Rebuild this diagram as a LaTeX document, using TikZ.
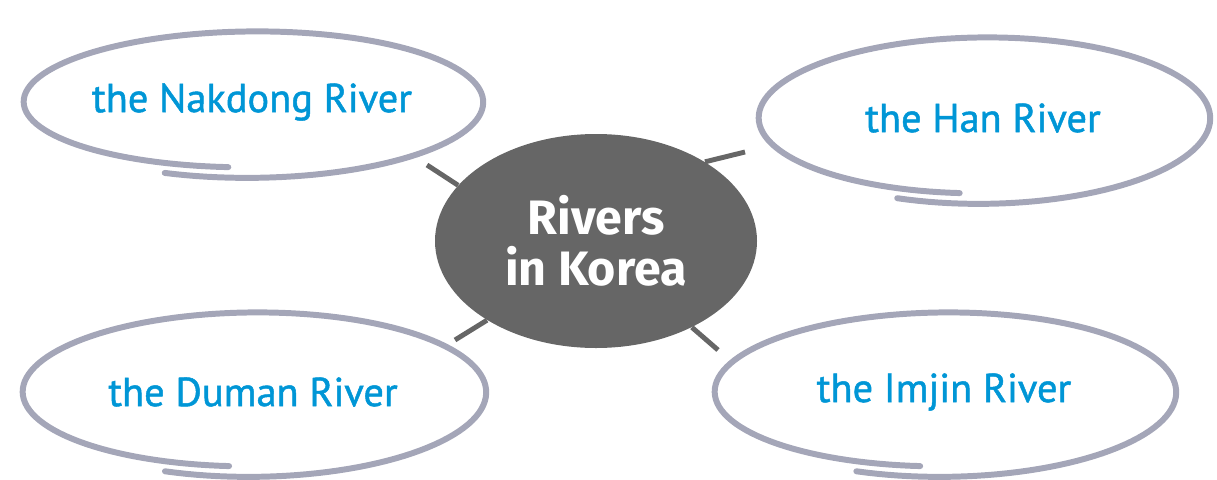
\documentclass[tikz,border=0pt]{standalone}
\usepackage{fontspec}
\usepackage{tikz}
\usetikzlibrary{positioning}
\usetikzlibrary{shapes.geometric}

\setmainfont{PT Sans}[FakeBold=1.2]
\newfontfamily\riverfont{PT Sans}[FakeBold=1.2]
\newfontfamily\hubfont{Fira Sans}

\definecolor{riverblue}{RGB}{0,150,214}
\definecolor{ringgray}{RGB}{164,166,184}
\definecolor{hubgray}{RGB}{102,102,102}

% hand drawn ring round a label: node, half width, half height
\newcommand\riverring[3]{%
  \draw[ring, shift={(#1)}] plot[domain=-112:264, samples=140]
    ({(#2-0.06+0.12*(264-\x)/376)*cos(\x)}, {(#3-0.11+0.22*(264-\x)/376)*sin(\x)});}

\begin{document}
\begin{tikzpicture}[node distance=6.9cm]
		\tikzstyle{hubelem} = [ellipse, fill=hubgray, minimum width=6.44cm, minimum height=4.28cm, inner sep=0pt, align=center, text=white, font=\hubfont\bfseries\fontsize{27.5}{29}\selectfont]
		\tikzstyle{river} = [text=riverblue, font=\riverfont\fontsize{23}{26}\selectfont]
		\tikzstyle{ring} = [draw=ringgray, line width=3.4pt, line cap=round]
		\tikzstyle{link} = [draw=hubgray, line width=2.8pt]

		\useasboundingbox (0,0) rectangle (24.34,-9.58);

		\node (hub) [hubelem] at (11.92,-4.82) {Rivers \\ in Korea};
		\node (nakdong) [river, left of=hub, xshift=0.02cm, yshift=2.78cm] {the Nakdong River};
		\node (han) [river, right of=hub, xshift=0.84cm, yshift=2.46cm] {the Han River};
		\node (duman) [river, left of=hub, xshift=0.04cm, yshift=-3.02cm] {the Duman River};
		\node (imjin) [river, right of=hub, xshift=0.06cm, yshift=-3.02cm] {the Imjin River};

		\riverring{nakdong}{4.6}{1.42}
		\riverring{han}{4.52}{1.62}
		\riverring{duman}{4.64}{1.6}
		\riverring{imjin}{4.62}{1.6}

		\coordinate (nakdongEnd) at (8.54,-3.30);
		\coordinate (hanEnd) at (14.90,-3.04);
		\coordinate (dumanEnd) at (9.10,-6.80);
		\coordinate (imjinEnd) at (14.36,-7.00);

		\draw [link] (hub.158) -- (nakdongEnd);
		\draw [link] (hub.36) -- (hanEnd);
		\draw [link] (hub.216) -- (dumanEnd);
		\draw [link] (hub.318) -- (imjinEnd);
	\end{tikzpicture}
\end{document}
